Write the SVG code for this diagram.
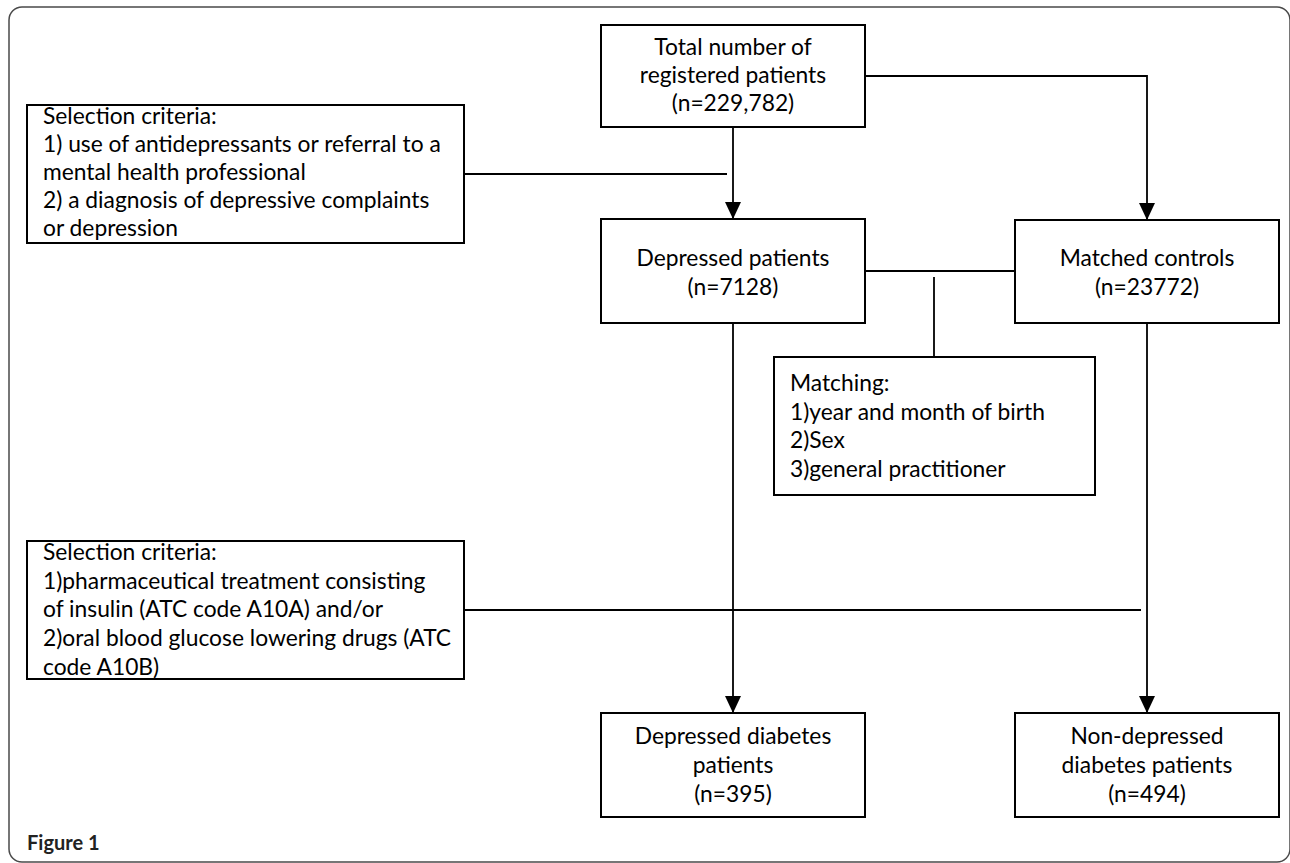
<svg xmlns="http://www.w3.org/2000/svg" width="1290" height="863" viewBox="0 0 1290 863">
<defs>
<style>
.frame{fill:none;stroke:#4a4a4a;stroke-width:1.5}
.box{fill:#fff;stroke:#000;stroke-width:2}
.ln{fill:none;stroke:#000;stroke-width:1.8}
.t{font-family:"Lato","Liberation Sans",sans-serif;font-size:22.8px;fill:#000}
.c{text-anchor:middle}
.fig{font-family:"Lato","Liberation Sans",sans-serif;font-size:20px;font-weight:bold;fill:#222}
</style>
<marker id="ah" markerUnits="userSpaceOnUse" markerWidth="17" markerHeight="16" refX="17" refY="8" orient="auto">
<path d="M0,0 L17,8 L0,16 Z" fill="#000"/>
</marker>
</defs>
<rect class="frame" x="9" y="7" width="1281" height="855" rx="13" ry="13"/>
<g id="connectors">
<line class="ln" x1="733" y1="127" x2="733" y2="219" marker-end="url(#ah)"/>
<line class="ln" x1="464" y1="174" x2="727" y2="174"/>
<path class="ln" d="M865,76 H1147 V220" marker-end="url(#ah)"/>
<line class="ln" x1="865" y1="271" x2="1015" y2="271"/>
<line class="ln" x1="934" y1="277" x2="934" y2="357"/>
<line class="ln" x1="733" y1="323" x2="733" y2="713" marker-end="url(#ah)"/>
<line class="ln" x1="1147" y1="323" x2="1147" y2="713" marker-end="url(#ah)"/>
<line class="ln" x1="464" y1="610" x2="1141" y2="610"/>
</g>
<g id="total">
<rect class="box" x="601" y="25" width="264" height="102"/>
<text class="t c" x="733" y="55">Total number of</text>
<text class="t c" x="733" y="83">registered patients</text>
<text class="t c" x="733" y="111">(n=229,782)</text>
</g>
<g id="selection1">
<rect class="box" x="27" y="105" width="437" height="138"/>
<text class="t" x="43" y="124">Selection criteria:</text>
<text class="t" x="43" y="152">1) use of antidepressants or referral to a</text>
<text class="t" x="43" y="180">mental health professional</text>
<text class="t" x="43" y="208">2) a diagnosis of depressive complaints</text>
<text class="t" x="43" y="236">or depression</text>
</g>
<g id="depressed">
<rect class="box" x="601" y="219" width="264" height="104"/>
<text class="t c" x="733" y="266">Depressed patients</text>
<text class="t c" x="733" y="295">(n=7128)</text>
</g>
<g id="controls">
<rect class="box" x="1015" y="220" width="264" height="103"/>
<text class="t c" x="1147" y="266">Matched controls</text>
<text class="t c" x="1147" y="295">(n=23772)</text>
</g>
<g id="matching">
<rect class="box" x="774" y="357" width="321" height="138"/>
<text class="t" x="790" y="391">Matching:</text>
<text class="t" x="790" y="420">1)year and month of birth</text>
<text class="t" x="790" y="448">2)Sex</text>
<text class="t" x="790" y="477">3)general practitioner</text>
</g>
<g id="selection2">
<rect class="box" x="27" y="541" width="437" height="138"/>
<text class="t" x="43" y="560">Selection criteria:</text>
<text class="t" x="43" y="589">1)pharmaceutical treatment consisting</text>
<text class="t" x="43" y="617">of insulin (ATC code A10A) and/or</text>
<text class="t" x="43" y="646">2)oral blood glucose lowering drugs (ATC</text>
<text class="t" x="43" y="675">code A10B)</text>
</g>
<g id="dep-diabetes">
<rect class="box" x="601" y="713" width="264" height="104"/>
<text class="t c" x="733" y="744">Depressed diabetes</text>
<text class="t c" x="733" y="773">patients</text>
<text class="t c" x="733" y="802">(n=395)</text>
</g>
<g id="nondep-diabetes">
<rect class="box" x="1015" y="713" width="264" height="104"/>
<text class="t c" x="1147" y="744">Non-depressed</text>
<text class="t c" x="1147" y="773">diabetes patients</text>
<text class="t c" x="1147" y="802">(n=494)</text>
</g>
<text class="fig" x="27" y="850">Figure 1</text>
</svg>
